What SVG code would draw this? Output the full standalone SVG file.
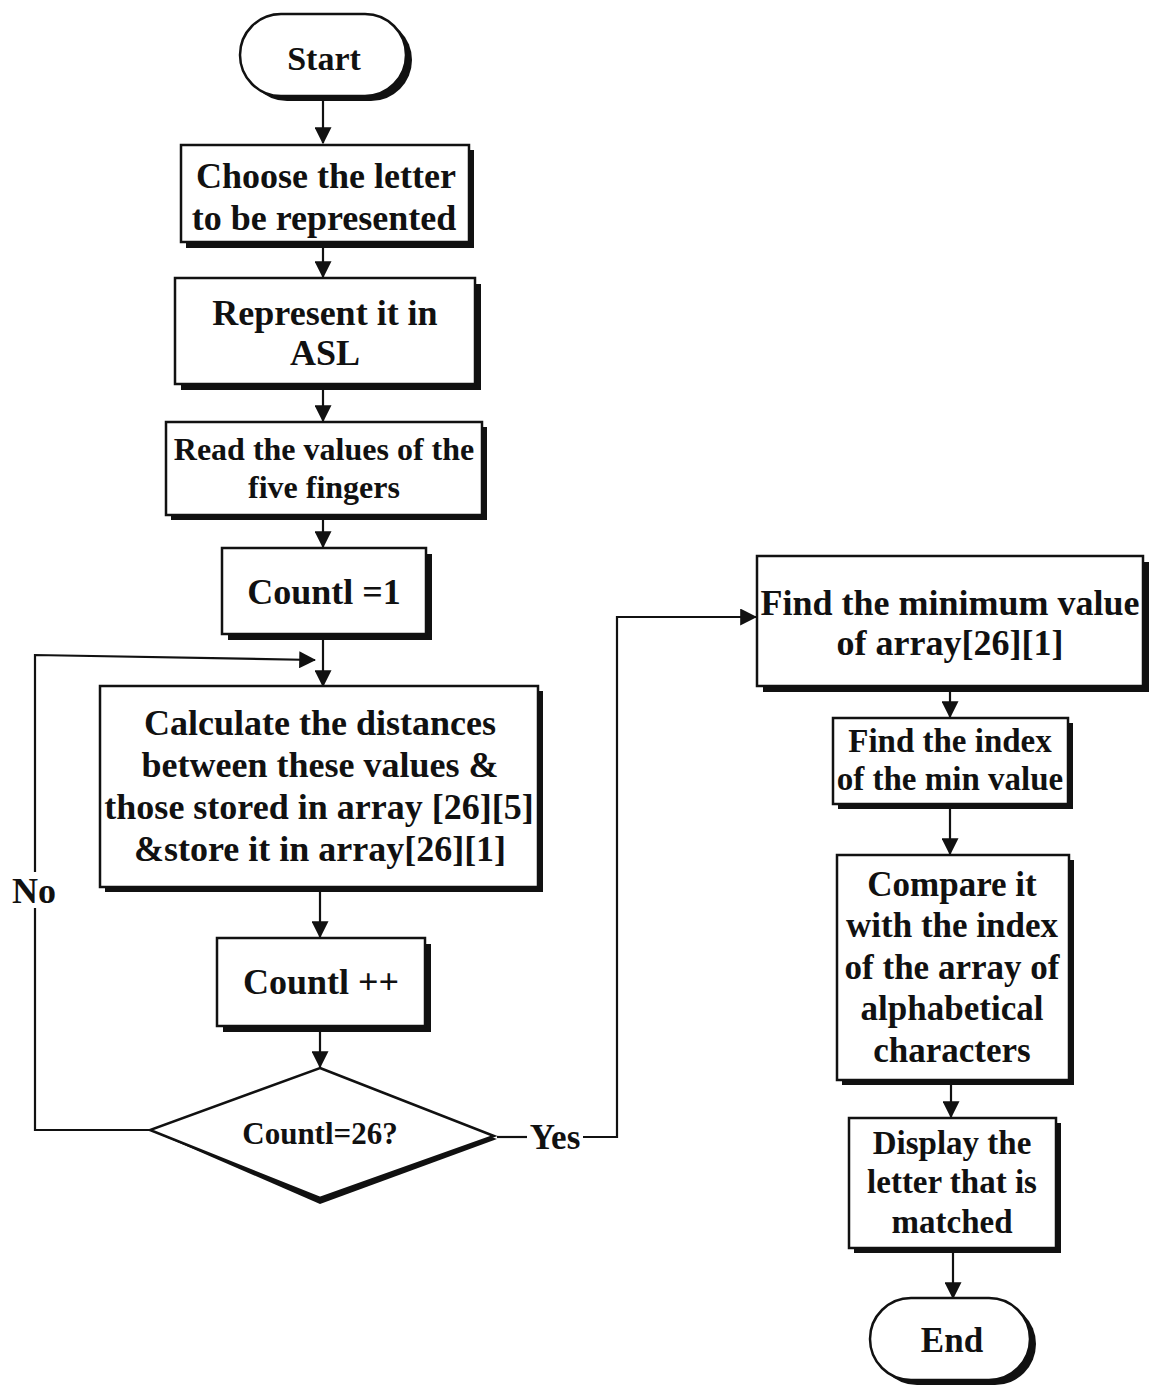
<svg xmlns="http://www.w3.org/2000/svg" width="1153" height="1387" viewBox="0 0 1153 1387">
<defs>
<style>
.box{fill:#fff;stroke:#111;stroke-width:2.5}
.sh{fill:#111}
.t{font-family:"Liberation Serif","Times New Roman",serif;font-weight:bold;fill:#111;text-anchor:middle}
.ln{fill:none;stroke:#111;stroke-width:2.2}
</style>
<marker id="ahb" viewBox="0 0 14 14" refX="13" refY="7" markerWidth="17" markerHeight="17" markerUnits="userSpaceOnUse" orient="auto">
<path d="M0,0 L14,7 L0,14 z" fill="#111"/>
</marker>
</defs>
<rect width="1153" height="1387" fill="#fff"/>

<g id="connectors">
<line class="ln" x1="323" y1="97" x2="323" y2="143" marker-end="url(#ahb)"/>
<line class="ln" x1="323" y1="243" x2="323" y2="277" marker-end="url(#ahb)"/>
<line class="ln" x1="323" y1="388" x2="323" y2="421" marker-end="url(#ahb)"/>
<line class="ln" x1="323" y1="517" x2="323" y2="547" marker-end="url(#ahb)"/>
<line class="ln" x1="323" y1="638" x2="323" y2="686" marker-end="url(#ahb)"/>
<polyline class="ln" points="150,1130 35,1130 35,908"/>
<polyline class="ln" points="35,872 35,655 315,660" marker-end="url(#ahb)"/>
<line class="ln" x1="320" y1="890" x2="320" y2="937" marker-end="url(#ahb)"/>
<line class="ln" x1="320" y1="1031" x2="320" y2="1067" marker-end="url(#ahb)"/>
<line class="ln" x1="497" y1="1137" x2="527" y2="1137"/>
<polyline class="ln" points="583,1137 617,1137 617,617 756,617" marker-end="url(#ahb)"/>
<line class="ln" x1="950" y1="690" x2="950" y2="717" marker-end="url(#ahb)"/>
<line class="ln" x1="950" y1="806" x2="950" y2="854" marker-end="url(#ahb)"/>
<line class="ln" x1="951" y1="1083" x2="951" y2="1117" marker-end="url(#ahb)"/>
<line class="ln" x1="953" y1="1251" x2="953" y2="1298" marker-end="url(#ahb)"/>
<text class="t" x="34" y="903" font-size="36">No</text>
<text class="t" x="555" y="1149" font-size="35">Yes</text>
</g>

<g id="start">
<rect class="sh" x="246" y="19" width="166" height="82" rx="41"/>
<rect class="box" x="240" y="14" width="166" height="82" rx="41"/>
<text class="t" x="324" y="70" font-size="34">Start</text>
</g>

<g id="choose">
<rect class="sh" x="186" y="150" width="288" height="98"/>
<rect class="box" x="181" y="145" width="288" height="97"/>
<text class="t" x="326" y="188" font-size="36">Choose the letter</text>
<text class="t" x="324" y="230" font-size="36">to be represented</text>
</g>

<g id="represent">
<rect class="sh" x="181" y="284" width="300" height="106"/>
<rect class="box" x="175" y="278" width="300" height="106"/>
<text class="t" x="325" y="325" font-size="36">Represent it in</text>
<text class="t" x="325" y="365" font-size="36">ASL</text>
</g>

<g id="read">
<rect class="sh" x="171" y="427" width="316" height="93"/>
<rect class="box" x="166" y="422" width="316" height="93"/>
<text class="t" x="324" y="460" font-size="32">Read the values of the</text>
<text class="t" x="324" y="498" font-size="32">five fingers</text>
</g>

<g id="count1">
<rect class="sh" x="228" y="554" width="204" height="86"/>
<rect class="box" x="222" y="548" width="204" height="86"/>
<text class="t" x="324" y="604" font-size="36">Countl =1</text>
</g>

<g id="calculate">
<rect class="sh" x="105" y="691" width="438" height="201"/>
<rect class="box" x="100" y="686" width="438" height="201"/>
<text class="t" x="320" y="735" font-size="36">Calculate the distances</text>
<text class="t" x="320" y="777" font-size="36">between these values &amp;</text>
<text class="t" x="319" y="819" font-size="36">those stored in array [26][5]</text>
<text class="t" x="320" y="861" font-size="36">&amp;store it in array[26][1]</text>
</g>

<g id="countinc">
<rect class="sh" x="223" y="944" width="208" height="88"/>
<rect class="box" x="217" y="938" width="208" height="88"/>
<text class="t" x="321" y="994" font-size="36">Countl ++</text>
</g>

<g id="decision">
<polygon class="sh" points="320,1074 497,1139 320,1204 152,1131"/>
<polygon class="box" points="320,1068 494,1136 320,1198 150,1130"/>
<text class="t" x="320" y="1144" font-size="31">Countl=26?</text>
</g>

<g id="findmin">
<rect class="sh" x="763" y="562" width="386" height="130"/>
<rect class="box" x="757" y="556" width="386" height="130"/>
<text class="t" x="950" y="615" font-size="36">Find the minimum value</text>
<text class="t" x="950" y="655" font-size="36">of array[26][1]</text>
</g>

<g id="findindex">
<rect class="sh" x="838" y="723" width="235" height="86"/>
<rect class="box" x="833" y="718" width="235" height="86"/>
<text class="t" x="950" y="752" font-size="33">Find the index</text>
<text class="t" x="950" y="790" font-size="33">of the min value</text>
</g>

<g id="compare">
<rect class="sh" x="842" y="860" width="232" height="225"/>
<rect class="box" x="837" y="855" width="232" height="225"/>
<text class="t" x="952" y="896" font-size="35">Compare it</text>
<text class="t" x="952" y="937" font-size="35">with the index</text>
<text class="t" x="952" y="979" font-size="35">of the array of</text>
<text class="t" x="952" y="1020" font-size="35">alphabetical</text>
<text class="t" x="952" y="1062" font-size="35">characters</text>
</g>

<g id="display">
<rect class="sh" x="854" y="1123" width="207" height="130"/>
<rect class="box" x="849" y="1118" width="207" height="130"/>
<text class="t" x="952" y="1154" font-size="33">Display the</text>
<text class="t" x="952" y="1193" font-size="33">letter that is</text>
<text class="t" x="952" y="1233" font-size="33">matched</text>
</g>

<g id="end">
<rect class="sh" x="876" y="1303" width="160" height="82" rx="41"/>
<rect class="box" x="870" y="1298" width="160" height="82" rx="41"/>
<text class="t" x="952" y="1352" font-size="35">End</text>
</g>
</svg>
